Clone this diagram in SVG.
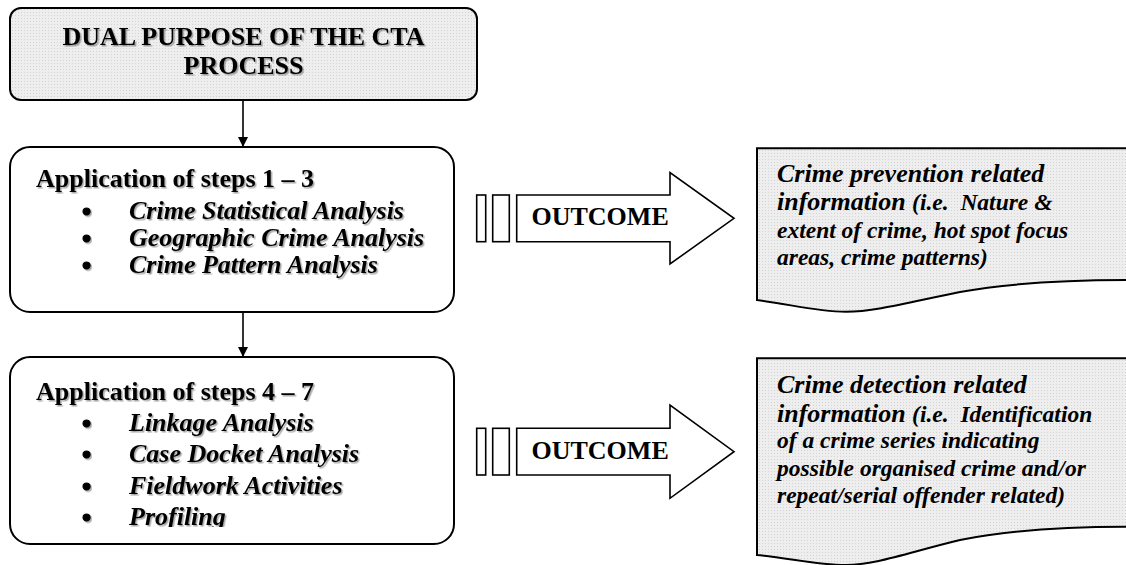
<svg xmlns="http://www.w3.org/2000/svg" width="1126" height="565" viewBox="0 0 1126 565">
<style>
  .t{font-family:"Liberation Serif","Times New Roman",serif;fill:#000}
  .b{font-weight:bold}
  .bi{font-weight:bold;font-style:italic}
  .bul{font-family:"Liberation Serif","Times New Roman",serif;fill:#000;font-size:26px;font-weight:bold;stroke:#000;stroke-width:1.2}
  .sh{filter:url(#shadow)}
  .box{fill:#fff;stroke:#000;stroke-width:2}
  .gbox{fill:url(#dots);stroke:#000;stroke-width:2}
  .conn{stroke:#000;stroke-width:1.6;fill:none}
  .arrowshape{fill:#fff;stroke:#000;stroke-width:1.6}
  .pre{white-space:pre}
</style>
<defs>
  <pattern id="dots" width="3" height="3" patternUnits="userSpaceOnUse">
    <rect width="3" height="3" fill="#eeeeee"/>
    <rect width="1" height="1" fill="#d4d4d4"/>
  </pattern>
  <filter id="shadow" x="-5%" y="-20%" width="110%" height="140%">
    <feDropShadow dx="1.5" dy="1.5" stdDeviation="0.6" flood-color="#000" flood-opacity="0.35"/>
  </filter>
  <marker id="ah" viewBox="0 0 10 10" refX="10" refY="5" markerWidth="10" markerHeight="10" markerUnits="userSpaceOnUse" orient="auto">
    <path d="M0,0 L10,5 L0,10 Z" fill="#000"/>
  </marker>
  <clipPath id="clip3"><rect x="0" y="340" width="460" height="187"/></clipPath>
</defs>

<g id="connectors">
  <line class="conn" x1="243" y1="100" x2="243" y2="147" marker-end="url(#ah)"/>
  <line class="conn" x1="243" y1="312" x2="243" y2="357" marker-end="url(#ah)"/>
</g>

<g id="title">
  <rect class="gbox" x="10" y="8" width="467" height="92" rx="11"/>
  <text class="t b sh" x="243.5" y="45" font-size="26" text-anchor="middle">DUAL PURPOSE OF THE CTA</text>
  <text class="t b sh" x="243.5" y="74" font-size="26" text-anchor="middle">PROCESS</text>
</g>

<g id="steps13">
  <rect class="box" x="10" y="147" width="444" height="165" rx="20"/>
  <text class="t b sh" x="36" y="187" font-size="26">Application of steps 1 – 3</text>
  <text class="bul sh" x="82" y="220">•</text>
  <text class="t bi sh" x="129" y="219" font-size="26">Crime Statistical Analysis</text>
  <text class="bul sh" x="82" y="247">•</text>
  <text class="t bi sh" x="129" y="246" font-size="26">Geographic Crime Analysis</text>
  <text class="bul sh" x="82" y="274">•</text>
  <text class="t bi sh" x="129" y="273" font-size="26">Crime Pattern Analysis</text>
</g>

<g id="steps47">
  <rect class="box" x="10" y="357" width="444" height="187" rx="20"/>
  <g clip-path="url(#clip3)">
    <text class="t b sh" x="36" y="400" font-size="26">Application of steps 4 – 7</text>
    <text class="bul sh" x="82" y="432">•</text>
    <text class="t bi sh" x="129" y="431" font-size="26">Linkage Analysis</text>
    <text class="bul sh" x="82" y="463">•</text>
    <text class="t bi sh" x="129" y="462" font-size="26">Case Docket Analysis</text>
    <text class="bul sh" x="82" y="495">•</text>
    <text class="t bi sh" x="129" y="494" font-size="26">Fieldwork Activities</text>
    <text class="bul sh" x="82" y="526">•</text>
    <text class="t bi sh" x="129" y="525" font-size="26">Profiling</text>
  </g>
</g>

<g id="outcome1">
  <rect class="arrowshape" x="476.7" y="195" width="9" height="46.7"/>
  <rect class="arrowshape" x="492.7" y="195" width="16.6" height="46.7"/>
  <path class="arrowshape" d="M516.7,195 H670 V172.6 L734,218.3 L670,264 V241.7 H516.7 Z"/>
  <text class="t b" x="531.5" y="224.5" font-size="26">OUTCOME</text>
</g>

<g id="outcome2">
  <rect class="arrowshape" x="476.7" y="428.3" width="9" height="46.7"/>
  <rect class="arrowshape" x="492.7" y="428.3" width="16.6" height="46.7"/>
  <path class="arrowshape" d="M516.7,428.3 H670 V405 L734,451.7 L670,498.3 V475 H516.7 Z"/>
  <text class="t b" x="531.5" y="458.5" font-size="26">OUTCOME</text>
</g>

<g id="prevention">
  <path class="gbox" d="M757,148.3 H1127 V280 C1070,280 1010,283 960,292 C910,302 875,311.7 846,311.7 C815,311.7 790,304 757,300 Z"/>
  <text class="t bi" x="777" y="181.7" font-size="26">Crime prevention related</text>
  <text class="t bi pre" x="777" y="210" font-size="26">information <tspan font-size="23.5">(i.e.  Nature &amp;</tspan></text>
  <text class="t bi" x="777" y="237.7" font-size="23.5">extent of crime, hot spot focus</text>
  <text class="t bi" x="777" y="264.5" font-size="23.5">areas, crime patterns)</text>
</g>

<g id="detection">
  <path class="gbox" d="M757,358.3 H1127 V526.7 C1070,526.7 1010,530 960,540 C910,552 875,565 846,565 C815,565 790,558 757,555 Z"/>
  <text class="t bi" x="777" y="393.3" font-size="26">Crime detection related</text>
  <text class="t bi pre" x="777" y="421.7" font-size="26">information <tspan font-size="23.5">(i.e.  Identification</tspan></text>
  <text class="t bi" x="777" y="448.3" font-size="23.5">of a crime series indicating</text>
  <text class="t bi" x="777" y="476" font-size="23.5">possible organised crime and/or</text>
  <text class="t bi" x="777" y="503.3" font-size="23.5">repeat/serial offender related)</text>
</g>
</svg>
